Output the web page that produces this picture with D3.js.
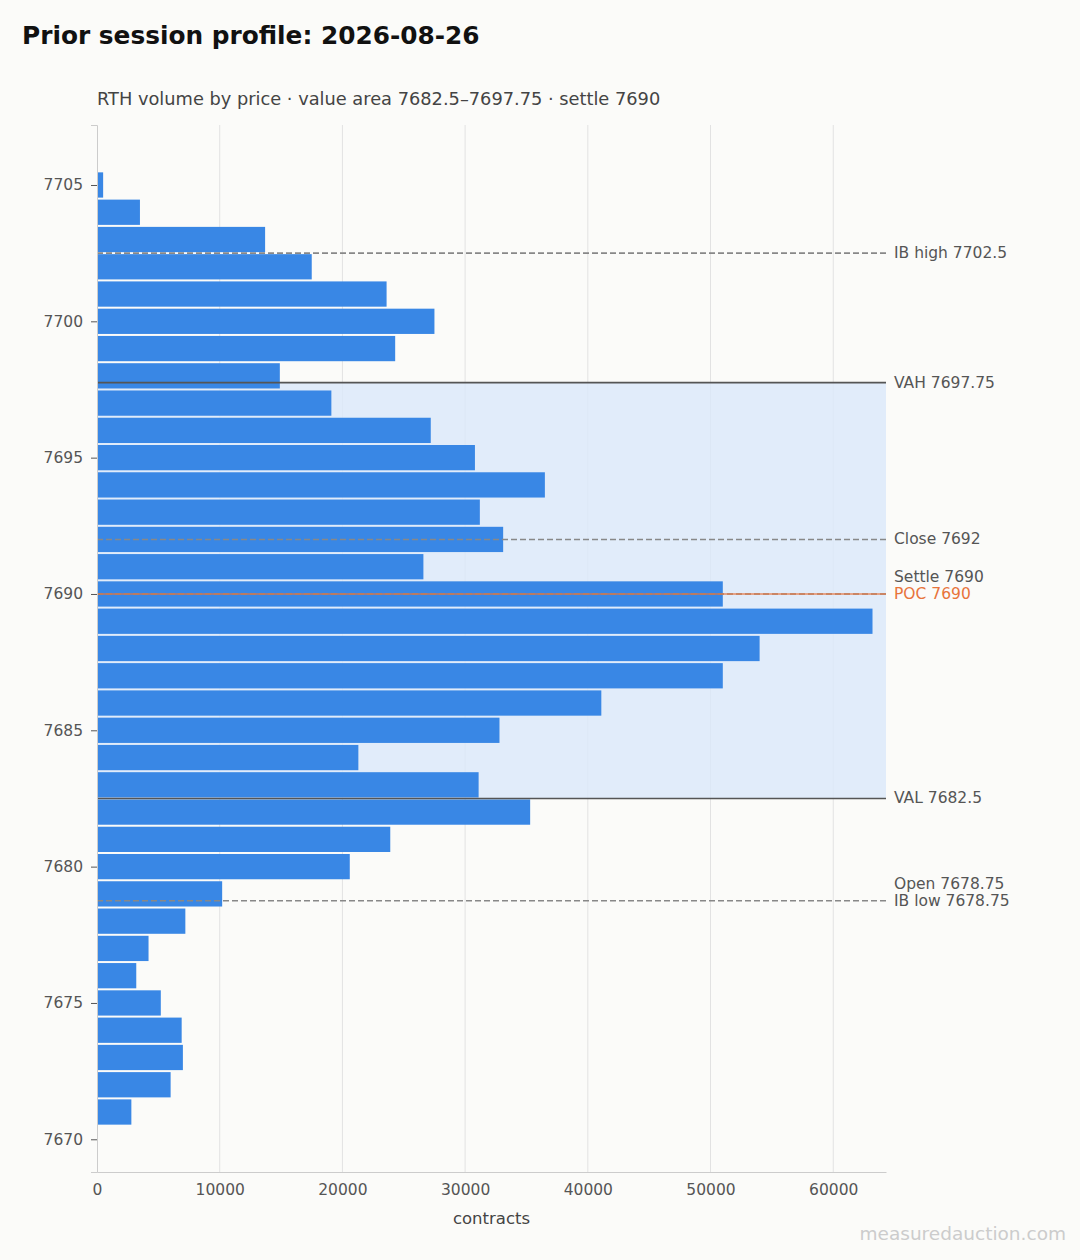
<!DOCTYPE html>
<html><head><meta charset="utf-8">
<script src="https://cdn.jsdelivr.net/npm/d3@7"></script>
<style>
body{margin:0;background:#fbfbf9;font-family:"DejaVu Sans",sans-serif;}
</style></head>
<body><svg id="chart" width="1080" height="1260"></svg>
<script>
const prices = [7705,7704,7703,7702,7701,7700,7699,7698,7697,7696,7695,7694,7693,7692,7691,7690,7689,7688,7687,7686,7685,7684,7683,7682,7681,7680,7679,7678,7677,7676,7675,7674,7673,7672,7671];
const volumes = [500,3500,13700,17500,23600,27500,24300,14900,19100,27200,30800,36500,31200,33100,26600,51000,63200,54000,51000,41100,32800,21300,31100,35300,23900,20600,10200,7200,4200,3200,5200,6900,7000,6000,2800];
const xTicks = [0,10000,20000,30000,40000,50000,60000];
const yTicks = [7670,7675,7680,7685,7690,7695,7700,7705];
const levelNames = ["IB high 7702.5","VAH 7697.75","Close 7692","Settle 7690","POC 7690","VAL 7682.5","Open 7678.75","IB low 7678.75"];
const levelPrices = [7702.5,7697.75,7692,7690,7690,7682.5,7678.75,7678.75];
const levelKinds = ["dash","solid","dash","settle","poc","solid","open","dash"];
const valueArea = [7682.5,7697.75];

const MARGIN = {left:97, right:194, top:125, bottom:88};
const W = 1080, H = 1260;
const svg = d3.select("#chart");
svg.append("rect").attr("width",W).attr("height",H).attr("fill","#fbfbf9");

const x = d3.scaleLinear().domain([0,64300]).range([MARGIN.left, W-MARGIN.right]);
const y = d3.scaleLinear().domain([7668.8,7707.2]).range([H-MARGIN.bottom, MARGIN.top]);
const bh = y(0) - y(1);

// grid
svg.append("g").selectAll("line").data(xTicks.slice(1)).join("line")
  .attr("x1",d=>x(d)).attr("x2",d=>x(d)).attr("y1",MARGIN.top).attr("y2",H-MARGIN.bottom)
  .attr("stroke","#e2e2e2").attr("stroke-width",1);

// value area
svg.append("rect").attr("x",x(0)).attr("width",x(64300)-x(0))
  .attr("y",y(valueArea[1])).attr("height",y(valueArea[0])-y(valueArea[1]))
  .attr("fill","#dbe8fa").attr("opacity",0.8);

// bars
svg.append("g").selectAll("rect").data(prices).join("rect")
  .attr("x",x(0)).attr("width",(d,i)=>x(volumes[i])-x(0))
  .attr("y",d=>y(d)-bh/2+1).attr("height",bh-2)
  .attr("fill","#3987e5");

// levels
levelPrices.forEach((p,i)=>{
  const k = levelKinds[i];
  if(k!=="open"){
    const ln = svg.append("line").attr("x1",x(0)).attr("x2",x(64300)).attr("y1",y(p)).attr("y2",y(p));
    if(k==="dash" || k==="settle") ln.attr("stroke","#888").attr("stroke-width",1.6).attr("stroke-dasharray","6,3");
    else if(k==="solid") ln.attr("stroke","#555").attr("stroke-width",1.6);
    else if(k==="poc") ln.attr("stroke","#e8743b").attr("stroke-width",1.6).attr("opacity",0.8);
  }
  const dy = (k==="settle" || k==="open") ? -17 : 0;
  svg.append("text").attr("x",894).attr("y",y(p)+dy+5)
    .attr("font-size",15.5).attr("fill",k==="poc"?"#e8743b":"#555").text(levelNames[i]);
});

// axes
const ya = svg.append("g").attr("transform",`translate(${MARGIN.left},0)`)
  .call(d3.axisLeft(y).tickValues(yTicks).tickFormat(d3.format("d")).tickSize(6).tickPadding(8));
ya.select(".domain").attr("stroke","#ccc");
ya.selectAll(".tick line").attr("stroke","#555");
ya.selectAll("text").attr("font-size",15.5).attr("fill","#555").attr("font-family","DejaVu Sans");

const xa = svg.append("g").attr("transform",`translate(0,${H-MARGIN.bottom})`)
  .call(d3.axisBottom(x).tickValues(xTicks).tickFormat(d3.format("d")).tickSize(0).tickPadding(12));
xa.select(".domain").attr("stroke","#ccc");
xa.selectAll("text").attr("font-size",15.5).attr("fill","#555").attr("font-family","DejaVu Sans");

svg.append("text").attr("x",(x(0)+x(64300))/2).attr("y",1224).attr("text-anchor","middle")
  .attr("font-size",16.5).attr("fill","#444").text("contracts");

svg.append("text").attr("x",22).attr("y",44).attr("font-size",24.8).attr("font-weight","bold")
  .attr("fill","#111").text("Prior session profile: 2026-08-26");
svg.append("text").attr("x",97).attr("y",105).attr("font-size",17.8).attr("fill","#444")
  .text("RTH volume by price · value area 7682.5–7697.75 · settle 7690");
svg.append("text").attr("x",1066).attr("y",1240).attr("text-anchor","end").attr("font-size",18.5)
  .attr("fill","#ccc").text("measuredauction.com");
</script></body></html>
